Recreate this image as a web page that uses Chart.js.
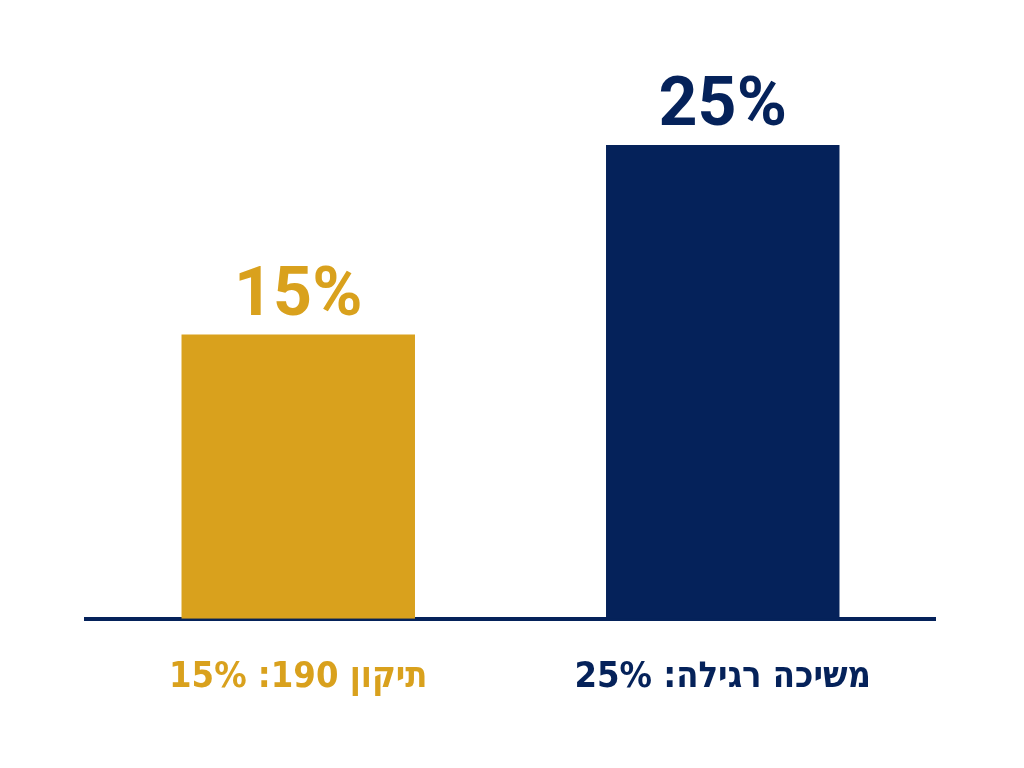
<!DOCTYPE html>
<html>
<head>
<meta charset="utf-8">
<script src="https://cdn.jsdelivr.net/npm/chart.js@4"></script>
<style>
  html, body { margin: 0; padding: 0; background: #ffffff; }
  .wrap { width: 1024px; height: 768px; }
</style>
</head>
<body>
<div class="wrap"><canvas id="c" dir="rtl"></canvas></div>
<script>
// נתונים
const categories = ['תיקון 190: 15%', 'משיכה רגילה: 25%'];
const values = [15, 25];
const valueLabels = ['15%', '25%'];
const barColors = ['#D9A11D', '#05225A'];

// תוויות מעל העמודות
const valueLabelPlugin = {
    id: 'valueLabels',
    afterDatasetsDraw(chart) {
        const ctx = chart.ctx;
        const meta = chart.getDatasetMeta(0);
        ctx.save();
        ctx.font = 'bold 68px Roboto, "Liberation Sans", sans-serif';
        ctx.textAlign = 'center';
        ctx.textBaseline = 'alphabetic';
        meta.data.forEach((bar, i) => {
            ctx.fillStyle = barColors[i];
            ctx.fillText(valueLabels[i], bar.x, bar.y - 20);
        });
        ctx.restore();
    }
};

new Chart(document.getElementById('c'), {
    type: 'bar',
    data: {
        labels: categories,
        datasets: [{
            data: values,
            backgroundColor: barColors,
            borderWidth: 0,
            barPercentage: 0.55,
            categoryPercentage: 1
        }]
    },
    options: {
        responsive: true,
        maintainAspectRatio: false,
        animation: false,
        layout: { padding: { left: 86, right: 89, top: 145, bottom: 32 } },
        plugins: {
            legend: { display: false },
            tooltip: { enabled: false }
        },
        scales: {
            y: { display: false, min: 0, max: 25 },
            x: {
                grid: { display: false, drawTicks: false },
                border: { display: true, color: '#05225A', width: 4 },
                ticks: {
                    padding: 37,
                    color: barColors,
                    font: { family: '"DejaVu Sans Condensed", "Liberation Sans Narrow", "Liberation Sans", sans-serif', size: 36, weight: 'bold' }
                }
            }
        }
    },
    plugins: [valueLabelPlugin]
});
</script>
</body>
</html>
